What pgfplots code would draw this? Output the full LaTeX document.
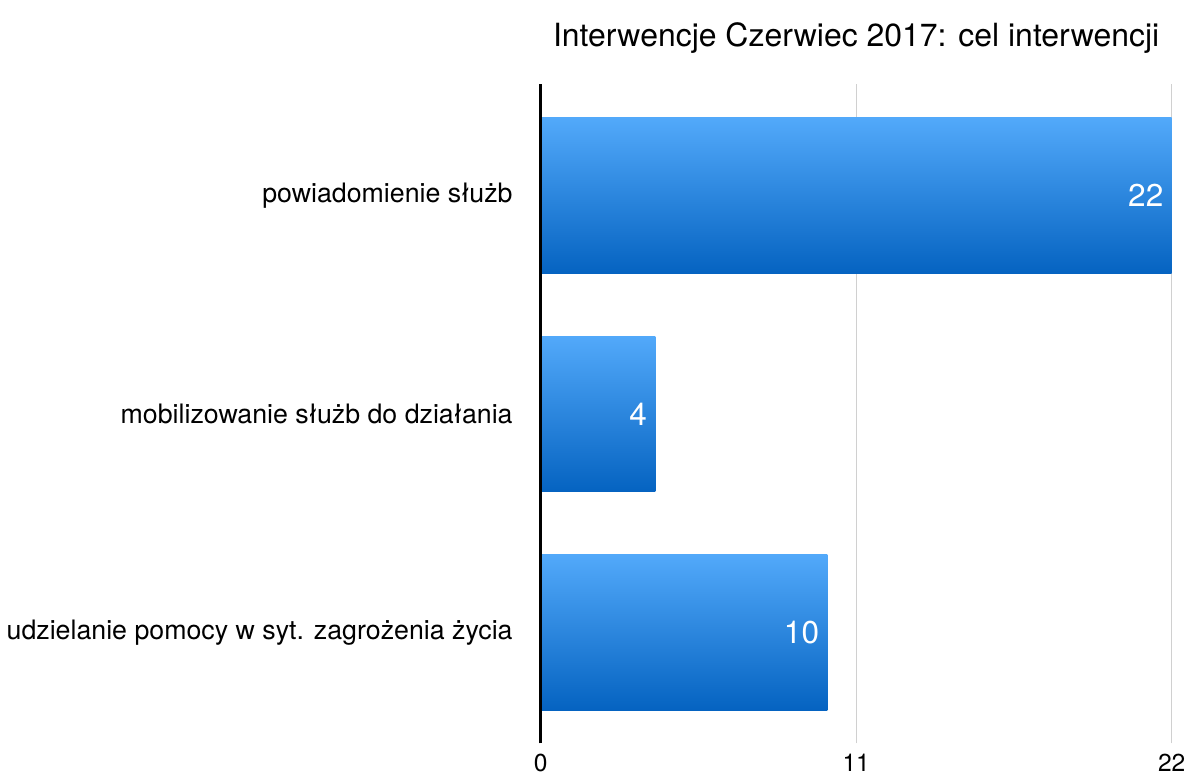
\documentclass[border=0pt]{standalone}
\usepackage{pgfplots}
\pgfplotsset{compat=1.18}
\usepackage{fontspec}
\setmainfont{TeX Gyre Heros}
\definecolor{barTop}{HTML}{52A9FA}
\definecolor{barBot}{HTML}{0563C1}
\definecolor{gridc}{HTML}{D0D0D0}
\begin{document}
\begin{tikzpicture}
\begin{axis}[
  scale only axis,
  width=316pt, height=330pt,
  xbar, bar width=78pt, bar shift=0pt,
  xmin=0, xmax=22,
  ymin=-0.51, ymax=2.51,
  ytick={0,1,2},
  yticklabels={udzielanie pomocy w syt. zagrożenia życia, mobilizowanie służb do działania, powiadomienie służb},
  xtick={0,11,22},
  xmajorgrids,
  grid style={draw=gridc, line width=0.6pt},
  axis lines*=left,
  x axis line style={draw=none},
  y axis line style={draw=none},
  major tick length=0pt,
  /pgf/number format/assume math mode=true,
  ticklabel style={font=\fontsize{12.3}{14}\selectfont},
  yticklabel style={font=\fontsize{13.4}{15}\selectfont, xshift=-10.5pt},
  xticklabel style={yshift=-2pt},
  title={Interwencje Czerwiec 2017: cel interwencji},
  title style={font=\fontsize{16}{19}\selectfont, yshift=6pt},
  nodes near coords,
  nodes near coords style={anchor=east, text=white, font=\fontsize{15.8}{18}\selectfont, inner sep=4pt},
  every axis plot/.append style={draw=none, top color=barTop, bottom color=barBot, bar shift=0pt},
  clip=false,
]
\addplot coordinates {(10,0)};
\addplot coordinates {(4,1)};
\addplot coordinates {(22,2)};
\draw[black, line width=1.4pt] (axis cs:0,-0.51) -- (axis cs:0,2.51);
\end{axis}
\path ([yshift=8pt]current bounding box.north);
\end{tikzpicture}
\end{document}
